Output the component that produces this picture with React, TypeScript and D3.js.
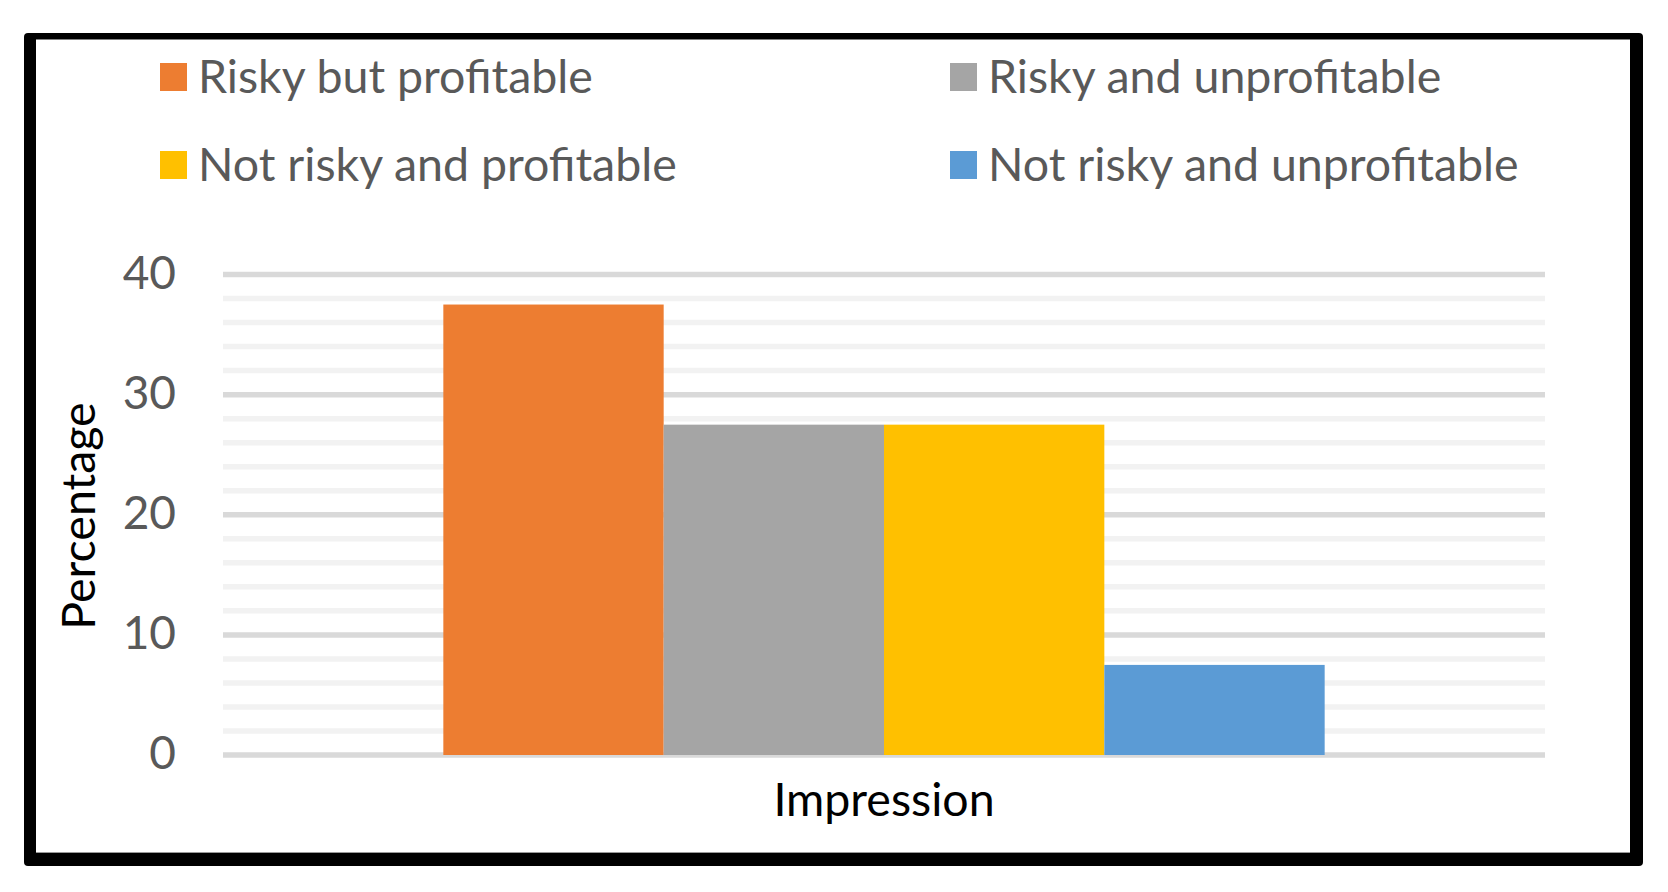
import React from "react";
import * as d3 from "d3";

const categories = ["Impression"];
const seriesNames = [
  "Risky but profitable",
  "Risky and unprofitable",
  "Not risky and profitable",
  "Not risky and unprofitable",
];
const seriesValues = [37.5, 27.5, 27.5, 7.5];
const seriesColors = ["#ED7D31", "#A5A5A5", "#FFC000", "#5B9BD5"];
const yTicks = [0, 10, 20, 30, 40];
const yLabel = "Percentage";

const W = 1668;
const H = 892;
const FONT = "Lato, 'Open Sans', sans-serif";

export default function App() {
  const plotL = 223;
  const plotR = 1545;
  const y = d3.scaleLinear().domain([0, 40]).range([755, 274.5]);
  const x0 = d3
    .scaleBand<string>()
    .domain(categories)
    .range([plotL, plotR])
    .paddingInner(0)
    .paddingOuter(0.25);
  const x1 = d3
    .scaleBand<string>()
    .domain(seriesNames)
    .range([0, x0.bandwidth()]);
  const minor = y.ticks(20).filter((t) => t % 10 !== 0);

  const legendCols = [160, 950];
  const legendRows = [77, 165];

  return (
    <svg
      width={W}
      height={H}
      style={{ position: "absolute", left: 0, top: 0, background: "#fff" }}
      fontFamily={FONT}
    >
      <rect x={0} y={0} width={W} height={H} fill="#fff" />
      {/* frame */}
      <rect x={24} y={33} width={1619} height={833} rx={4} fill="#000" />
      <rect x={36} y={39.5} width={1594} height={813.5} fill="#fff" />
      <line x1={36} x2={1630} y1={852.5} y2={852.5} stroke="#999" strokeWidth={1} />

      {/* legend */}
      {seriesNames.map((name, i) => {
        const cx = legendCols[i % 2];
        const cy = legendRows[Math.floor(i / 2)];
        return (
          <g key={name}>
            <rect x={cx} y={cy - 14} width={27} height={28} fill={seriesColors[i]} />
            <text
              x={cx + 38}
              y={cy}
              dy="0.34em"
              fontSize={46.5}
              fill="#595959"
            >
              {name}
            </text>
          </g>
        );
      })}

      {/* gridlines */}
      {minor.map((t) => (
        <line
          key={"m" + t}
          x1={plotL}
          x2={plotR}
          y1={y(t)}
          y2={y(t)}
          stroke="#F2F2F2"
          strokeWidth={5.5}
        />
      ))}
      {yTicks.map((t) => (
        <line
          key={"M" + t}
          x1={plotL}
          x2={plotR}
          y1={y(t)}
          y2={y(t)}
          stroke="#D9D9D9"
          strokeWidth={5.5}
        />
      ))}

      {/* bars */}
      {categories.map((c) => (
        <g key={c} transform={`translate(${x0(c)},0)`}>
          {seriesNames.map((s, i) => (
            <rect
              key={s}
              x={x1(s)}
              y={y(seriesValues[i])}
              width={x1.bandwidth()}
              height={y(0) - y(seriesValues[i])}
              fill={seriesColors[i]}
            />
          ))}
        </g>
      ))}

      {/* y tick labels */}
      {yTicks.map((t) => (
        <text
          key={"t" + t}
          x={176}
          y={y(t)}
          dy="0.06em"
          dominantBaseline="middle"
          textAnchor="end"
          fontSize={46}
          fill="#595959"
        >
          {t}
        </text>
      ))}

      {/* axis titles */}
      <text
        transform={`translate(95,516) rotate(-90)`}
        textAnchor="middle"
        fontSize={46.5}
        fill="#000"
      >
        {yLabel}
      </text>
      {categories.map((c) => (
        <text
          key={"c" + c}
          x={(x0(c) ?? 0) + x0.bandwidth() / 2}
          y={816}
          textAnchor="middle"
          fontSize={46.5}
          fill="#000"
        >
          {c}
        </text>
      ))}
    </svg>
  );
}
